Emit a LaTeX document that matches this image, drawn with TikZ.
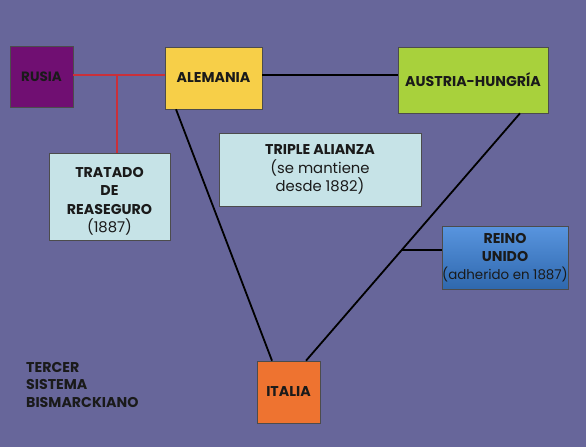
\documentclass[tikz,border=0pt]{standalone}
\usepackage{fontspec}
\setmainfont{Poppins}
\usetikzlibrary{calc}
\definecolor{bg}{HTML}{67669A}
\definecolor{rusia}{HTML}{700F72}
\definecolor{alem}{HTML}{F7CF48}
\definecolor{austria}{HTML}{A8D13C}
\definecolor{pale}{HTML}{C6E3E7}
\definecolor{reino}{HTML}{3B82D9}
\definecolor{italia}{HTML}{EE7330}
\definecolor{redline}{HTML}{C9303A}
\definecolor{txt}{HTML}{1A1A1A}
\begin{document}
\begin{tikzpicture}[x=1pt,y=-1pt,
  box/.style={draw=black!70,line width=0.6pt,inner sep=0pt,align=center,text=txt,font=\fontsize{14.2}{18.5}\selectfont\bfseries},
  link/.style={line width=1.8pt,black},
  rlink/.style={line width=2.6pt,redline}]
\fill[bg] (0,0) rectangle (586,447);
\useasboundingbox (0,0) rectangle (586,447);
\node[box,fill=rusia,minimum width=63pt,minimum height=61pt,font=\fontsize{13.5}{16}\selectfont\bfseries] (rusia) at (41.5,76.5) {RUSIA};
\node[box,fill=alem,minimum width=97pt,minimum height=62pt] (alem) at (213.5,78) {ALEMANIA};
\node[box,fill=austria,minimum width=150pt,minimum height=66pt] (aus) at (473,80) {AUSTRIA-HUNGRÍA};
\node[box,fill=pale,minimum width=121pt,minimum height=87pt] (trat) at (109.5,196.5) {\rule{0pt}{20pt}TRATADO\\DE\\REASEGURO\\{\mdseries\fontsize{14.8}{18.5}\selectfont(1887)}};
\node[box,fill=pale,minimum width=202pt,minimum height=73pt] (triple) at (320,169.5) {TRIPLE ALIANZA\\{\mdseries\fontsize{14.8}{18}\selectfont(se mantiene}\\{\mdseries\fontsize{14.8}{18}\selectfont desde 1882)}};
\node[box,top color=reino!85!white,bottom color=reino!80!black,minimum width=126pt,minimum height=63pt,font=\fontsize{14.2}{18}\selectfont\bfseries] (reino) at (505,257.5) {REINO\\UNIDO\\{\mdseries\fontsize{13.4}{18}\selectfont(adherido en 1887)}};
\node[box,fill=italia,minimum width=63pt,minimum height=62pt] (italia) at (288.5,392) {ITALIA};
\node[anchor=north west,align=left,text=txt,font=\fontsize{14.2}{17.5}\selectfont\bfseries,inner sep=0pt] (title) at (26,362) {TERCER\\SISTEMA\\BISMARCKIANO};
% links
\draw[rlink] (rusia.east |- 0,75) -- (alem.west |- 0,75);
\coordinate (rj) at (117,75);
\draw[rlink] (rj) -- (trat.north -| rj);
\draw[link] (alem.east |- 0,75) -- (aus.west |- 0,75);
\coordinate (a1) at (alem.south -| 176,0);
\coordinate (i1) at (italia.north -| 272,0);
\coordinate (a2) at (aus.south -| 520,0);
\coordinate (i2) at (italia.north -| 306,0);
\draw[link] (a1) -- (i1);
\draw[link] (a2) -- (i2);
\coordinate (rb) at ($(a2)!0.552!(i2)$);
\draw[link] (rb) -- (reino.west |- rb);
\end{tikzpicture}
\end{document}
